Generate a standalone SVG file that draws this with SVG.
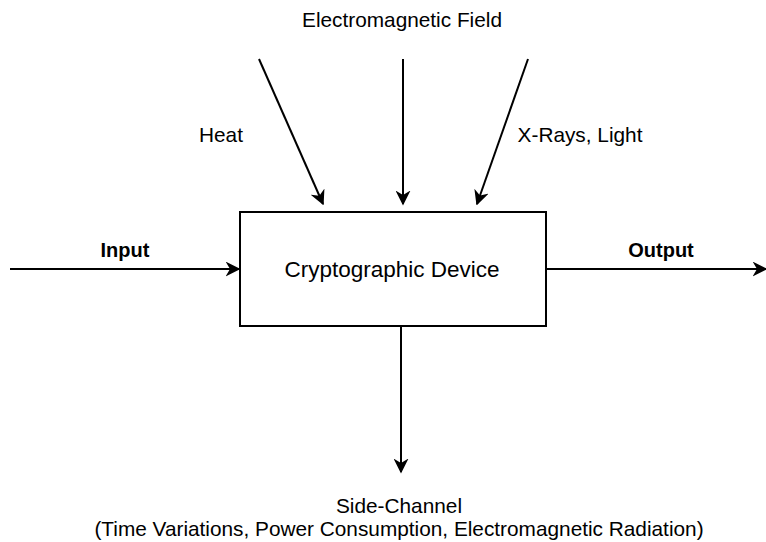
<svg xmlns="http://www.w3.org/2000/svg" width="766" height="542" viewBox="0 0 766 542">
<style>
text{font-family:"Liberation Sans",Arial,Helvetica,sans-serif;font-size:20.8px;fill:#000;text-anchor:middle}
.b{font-weight:bold;font-size:20px}
.d{font-size:22.5px}
.c{stroke:#000;stroke-width:2;fill:none}
</style>
<defs>
<marker id="ah" viewBox="0 0 10 10" refX="9" refY="5" markerWidth="7.5" markerHeight="7.5" markerUnits="strokeWidth" orient="auto">
<path d="M0,0 L10,5 L0,10 L3,5 Z" fill="#000"/>
</marker>
</defs>
<rect width="766" height="542" fill="#fff"/>
<g id="device">
<rect x="240" y="212" width="306" height="114" fill="#fff" stroke="#000" stroke-width="2"/>
<text class="d" x="392" y="277">Cryptographic Device</text>
</g>
<g id="connectors">
<line class="c" x1="10" y1="269" x2="239" y2="269" marker-end="url(#ah)"/>
<line class="c" x1="546" y1="269" x2="766" y2="269" marker-end="url(#ah)"/>
<line class="c" x1="259" y1="59" x2="323" y2="204" marker-end="url(#ah)"/>
<line class="c" x1="403" y1="59" x2="403" y2="204" marker-end="url(#ah)"/>
<line class="c" x1="528" y1="59" x2="477" y2="204" marker-end="url(#ah)"/>
<line class="c" x1="401" y1="326" x2="401" y2="472" marker-end="url(#ah)"/>
</g>
<g id="labels">
<text x="402" y="27">Electromagnetic Field</text>
<text x="221" y="142">Heat</text>
<text x="580" y="142">X-Rays, Light</text>
<text class="b" x="125" y="257">Input</text>
<text class="b" x="661" y="257">Output</text>
<text x="399" y="513">Side-Channel</text>
<text x="399" y="536">(Time Variations, Power Consumption, Electromagnetic Radiation)</text>
</g>
</svg>
